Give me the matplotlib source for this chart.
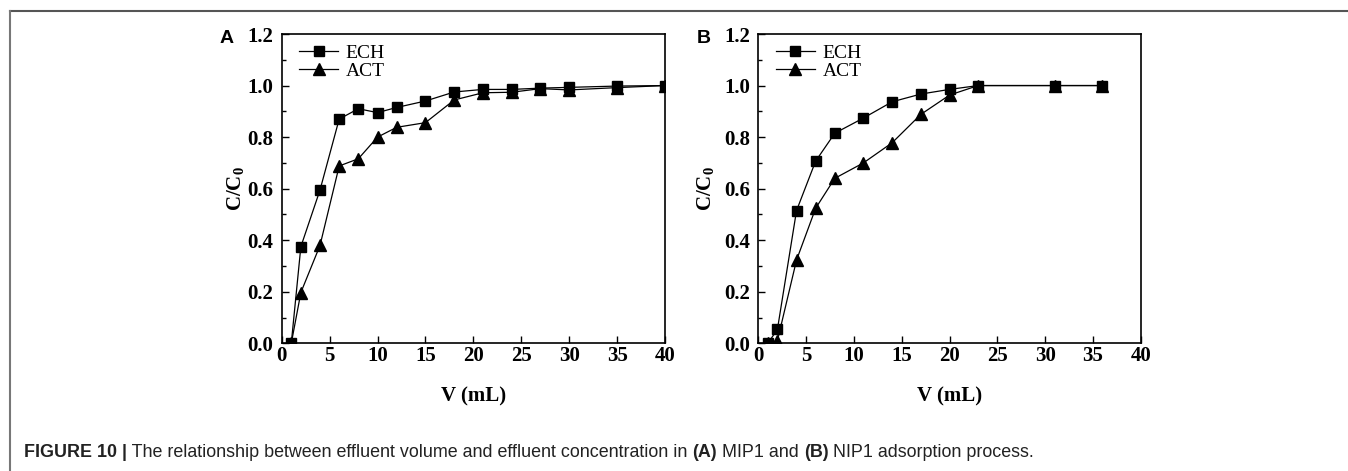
import matplotlib
matplotlib.use("Agg")
import matplotlib.pyplot as plt
from matplotlib.lines import Line2D
from matplotlib.ticker import MultipleLocator

# Panel A (MIP1)
a_v = [1, 2, 4, 6, 8, 10, 12, 15, 18, 21, 24, 27, 30, 35, 40]
a_ech = [0.0, 0.375, 0.595, 0.87, 0.91, 0.895, 0.915, 0.94, 0.975, 0.985, 0.985, 0.99, 0.993, 0.998, 1.0]
a_act = [0.0, 0.197, 0.38, 0.688, 0.716, 0.80, 0.838, 0.856, 0.944, 0.972, 0.974, 0.988, 0.983, 0.992, 1.0]

# Panel B (NIP1)
b_v = [1, 2, 4, 6, 8, 11, 14, 17, 20, 23, 31, 36]
b_ech = [0.0, 0.054, 0.515, 0.707, 0.815, 0.874, 0.937, 0.967, 0.985, 1.0, 1.0, 1.0]
b_act = [0.0, 0.01, 0.323, 0.524, 0.64, 0.70, 0.778, 0.888, 0.963, 1.0, 1.0, 1.0]

xticks = [0, 5, 10, 15, 20, 25, 30, 35, 40]
yticks = [0.0, 0.2, 0.4, 0.6, 0.8, 1.0, 1.2]
series_names = ["ECH", "ACT"]
panel_letters = ["A", "B"]
caption_bold = "FIGURE 10 |"

W, H = 1348, 471
fig = plt.figure(figsize=(W / 100, H / 100), dpi=100)

serif = "Liberation Serif"
sans = "Liberation Sans"

plt.rcParams["mathtext.fontset"] = "custom"
plt.rcParams["mathtext.rm"] = "Liberation Serif:bold"
plt.rcParams["mathtext.bf"] = "Liberation Serif:bold"
plt.rcParams["mathtext.it"] = "Liberation Serif:bold"

# frame lines (top and left)
fig.add_artist(Line2D([10 / W, 1.0], [1 - 11 / H, 1 - 11 / H], color="#555555", lw=1.5,
                      transform=fig.transFigure))
fig.add_artist(Line2D([10 / W, 10 / W], [0.0, 1 - 11 / H], color="#777777", lw=1.5,
                      transform=fig.transFigure))

TS = 15

def make_ax(left_px, right_px, data, letter, ylpad):
    top_px, bot_px = 34, 343.3
    ax = fig.add_axes([left_px / W, 1 - bot_px / H, (right_px - left_px) / W, (bot_px - top_px) / H])
    v, ech, act = data
    ax.plot(v, ech, color="black", lw=0.9, marker="s", markersize=7.5, label=series_names[0])
    ax.plot(v, act, color="black", lw=0.9, marker="^", markersize=8.5, label=series_names[1])
    ax.set_xlim(0, 40)
    ax.set_ylim(0, 1.2)
    ax.set_xticks(xticks)
    ax.set_yticks(yticks)
    ax.yaxis.set_minor_locator(MultipleLocator(0.1))
    ax.tick_params(axis="both", which="both", direction="in", top=False, right=False)
    ax.tick_params(axis="both", which="major", length=5, width=1.0)
    ax.tick_params(axis="y", which="minor", length=3, width=1.0)
    ax.tick_params(axis="x", pad=2)
    ax.tick_params(axis="y", pad=6)
    ax.set_xticklabels([str(t) for t in xticks], fontfamily=serif, fontweight="bold", fontsize=TS)
    ax.set_yticklabels([f"{t:.1f}" for t in yticks], fontfamily=serif, fontweight="bold", fontsize=TS)
    for s in ax.spines.values():
        s.set_linewidth(1.2)
    ax.set_xlabel("V (mL)", fontfamily=serif, fontweight="bold", fontsize=TS, labelpad=15)
    ax.set_ylabel(r"C/C$_\mathbf{0}$", fontfamily=serif, fontweight="bold", fontsize=TS, labelpad=ylpad)
    ax.legend(loc="upper left", frameon=False, handlelength=2.0, handletextpad=0.4,
              borderaxespad=0.3, labelspacing=0.0, prop={"family": serif, "size": 14},
              bbox_to_anchor=(0.01, 1.01))
    ax.text(-0.161, 0.984, letter, transform=ax.transAxes, fontfamily=sans, fontweight="bold",
            fontsize=14, ha="left", va="center")
    return ax

make_ax(281.7, 665, (a_v, a_ech, a_act), panel_letters[0], 1)
make_ax(758.3, 1140.7, (b_v, b_ech, b_act), panel_letters[1], 6)

# caption
cap_y = 1 - 457 / H
CS = 12.9
t1 = fig.text(24 / W, cap_y, caption_bold, fontfamily=sans, fontweight="bold", fontsize=CS,
              color="#222222", va="baseline")
fig.canvas.draw()
r = fig.canvas.get_renderer()
x = t1.get_window_extent(r).x1
parts = [(" The relationship between effluent volume and effluent concentration in ", "normal"),
         ("(A)", "bold"), (" MIP1 and ", "normal"), ("(B)", "bold"),
         (" NIP1 adsorption process.", "normal")]
for txt, wt in parts:
    t = fig.text(x / W, cap_y, txt, fontfamily=sans, fontweight=wt, fontsize=CS,
                 color="#222222", va="baseline")
    x = t.get_window_extent(r).x1

fig.savefig("out.png", dpi=100)
